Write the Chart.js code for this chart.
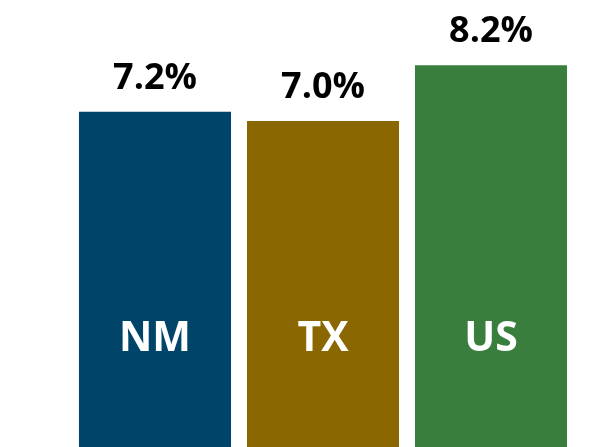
<!DOCTYPE html>
<html>
<head>
<meta charset="utf-8">
<script src="https://cdn.jsdelivr.net/npm/chart.js@4"></script>
<style>
  html, body { margin: 0; padding: 0; background: #fff; }
  #wrap { width: 615px; height: 447px; }
</style>
</head>
<body>
<div id="wrap"><canvas id="chart" width="615" height="447"></canvas></div>
<script>
// data
const regions = ["NM", "TX", "US"];
const rates = [7.2, 7.0, 8.2];
const barColors = ["#01446A", "#8A6700", "#3A7E3E"];

const FONT = "'Open Sans', Lato, sans-serif";

// labels: value above each bar, region name inside near bottom
const barLabels = {
  id: "barLabels",
  afterDatasetsDraw(chart) {
    const ctx = chart.ctx;
    const meta = chart.getDatasetMeta(0);
    const area = chart.chartArea;
    ctx.save();
    ctx.textAlign = "center";
    meta.data.forEach((bar, i) => {
      ctx.fillStyle = "#000";
      ctx.font = "bold 36px " + FONT;
      ctx.textBaseline = "alphabetic";
      ctx.fillText(rates[i].toFixed(1) + "%", bar.x, bar.y - 23);

      ctx.fillStyle = "#fff";
      ctx.font = "bold 41px " + FONT;
      ctx.textBaseline = "alphabetic";
      ctx.fillText(regions[i], bar.x, area.bottom - 96);
    });
    ctx.restore();
  }
};

new Chart(document.getElementById("chart"), {
  type: "bar",
  data: {
    labels: regions,
    datasets: [{
      data: rates,
      backgroundColor: barColors,
      borderWidth: 0,
      categoryPercentage: 1,
      barPercentage: 0.905
    }]
  },
  options: {
    responsive: false,
    animation: false,
    layout: { padding: { left: 71, right: 40, top: 0, bottom: 0 } },
    plugins: { legend: { display: false }, tooltip: { enabled: false } },
    scales: {
      x: { display: false },
      y: { display: false, min: 0, max: 9.6 }
    }
  },
  plugins: [barLabels]
});
</script>
</body>
</html>
